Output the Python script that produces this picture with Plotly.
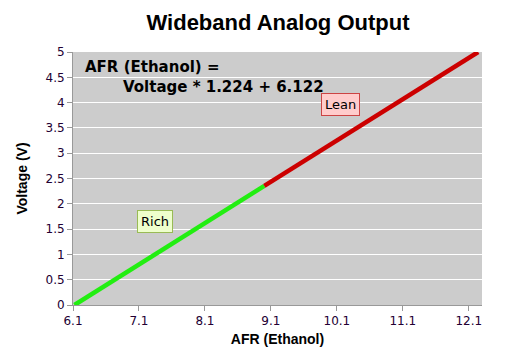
import plotly.graph_objects as go

afr_rich = [6.122, 9.0]
volt_rich = [0.0, 2.353]
afr_lean = [9.0, 12.242]
volt_lean = [2.353, 5.0]
x_ticks = [6.1, 7.1, 8.1, 9.1, 10.1, 11.1, 12.1]
y_ticks = [0, 0.5, 1, 1.5, 2, 2.5, 3, 3.5, 4, 4.5, 5]

fig = go.Figure()
fig.add_trace(go.Scatter(x=afr_rich, y=volt_rich, mode="lines",
                         line=dict(color="#22ee11", width=4.5), showlegend=False))
fig.add_trace(go.Scatter(x=afr_lean, y=volt_lean, mode="lines",
                         line=dict(color="#cc0000", width=4.5), showlegend=False))

tickfont = dict(family="DejaVu Sans", size=12, color="#220033")
fig.update_layout(
    width=500, height=355,
    margin=dict(l=65, r=26, t=44, b=58),
    paper_bgcolor="white", plot_bgcolor="#cccccc",
    title=dict(text="<b>Wideband Analog Output</b>", x=0.54, xanchor="center",
               y=0.96, yanchor="middle",
               font=dict(family="Liberation Sans", size=22, color="black")),
    xaxis=dict(range=[6.1, 12.3], tickvals=x_ticks, ticktext=[str(v) for v in x_ticks],
               showgrid=False, zeroline=False, showline=True, linecolor="#999999",
               ticks="outside", ticklen=5, tickcolor="#999999", tickfont=tickfont,
               title=dict(text="<b>AFR (Ethanol)</b>", standoff=6,
                          font=dict(family="Liberation Sans", size=14, color="black"))),
    yaxis=dict(range=[0, 5], tickvals=y_ticks, ticktext=[str(v) for v in y_ticks],
               showgrid=True, gridcolor="white", gridwidth=1, zeroline=False,
               showline=True, linecolor="#999999",
               ticks="outside", ticklen=5, tickcolor="#999999", tickfont=tickfont,
               title=dict(text="<b>Voltage (V)</b>", standoff=14,
                          font=dict(family="Liberation Sans", size=14, color="black"))),
    annotations=[
        dict(text="<b>AFR (Ethanol) =</b>", xref="paper", yref="paper",
             x=0.025, y=0.94, xanchor="left", yanchor="middle", showarrow=False,
             font=dict(family="DejaVu Sans", size=15, color="black")),
        dict(text="<b>Voltage * 1.224 + 6.122</b>", xref="paper", yref="paper",
             x=0.118, y=0.862, xanchor="left", yanchor="middle", showarrow=False,
             font=dict(family="DejaVu Sans", size=15, color="black")),
        dict(text="Rich", x=7.35, y=1.65, xref="x", yref="y", showarrow=False,
             bgcolor="#eeffcc", bordercolor="#99bb55", borderwidth=1, borderpad=3,
             font=dict(family="DejaVu Sans", size=13, color="black")),
        dict(text="Lean", x=10.15, y=3.97, xref="x", yref="y", showarrow=False,
             bgcolor="#ffcccc", bordercolor="#cc4444", borderwidth=1, borderpad=3,
             font=dict(family="DejaVu Sans", size=13, color="black")),
    ],
)
fig.write_html("out.html")
